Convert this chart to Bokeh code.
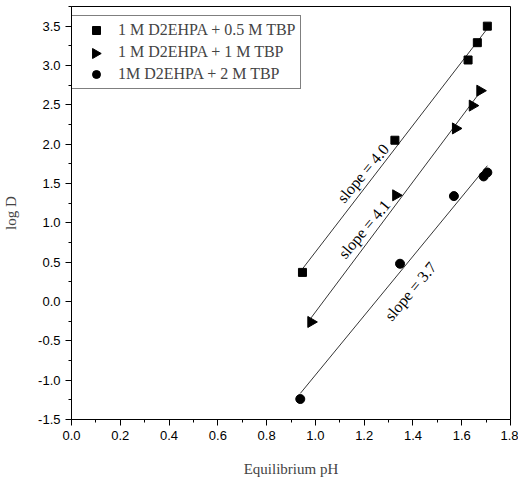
import numpy as np
from bokeh.plotting import figure
from bokeh.models import (Range1d, Legend, LegendItem, Label, FixedTicker,
                          PrintfTickFormatter, ColumnDataSource)
from bokeh.embed import file_html
from bokeh.resources import INLINE

# Data
x_sq = [0.947, 1.326, 1.626, 1.664, 1.705]
y_sq = [0.37, 2.05, 3.07, 3.29, 3.50]
x_tr = [0.982, 1.33, 1.575, 1.644, 1.675]
y_tr = [-0.26, 1.35, 2.20, 2.49, 2.68]
x_ci = [0.938, 1.347, 1.568, 1.69, 1.705]
y_ci = [-1.24, 0.48, 1.34, 1.59, 1.64]

labels = ["1 M D2EHPA + 0.5 M TBP", "1 M D2EHPA + 1 M TBP", "1M D2EHPA + 2 M TBP"]
slope_texts = ["slope = 4.0", "slope = 4.1", "slope = 3.7"]
slope_pos_x = [1.195, 1.20, 1.39]
slope_pos_y = [1.63, 0.92, 0.13]

X0, X1, Y0, Y1 = 0.0, 1.8, -1.5, 3.75
FW, FH = 440, 413  # frame size in px

p = figure(width=518, height=487, output_backend="svg", toolbar_location=None,
           x_range=Range1d(X0, X1), y_range=Range1d(Y0, Y1),
           min_border_left=70, min_border_right=8, min_border_top=6, min_border_bottom=68)
p.grid.visible = False
p.outline_line_color = "black"
p.outline_line_width = 1
p.background_fill_color = "white"
p.border_fill_color = "white"

series = [(x_sq, y_sq), (x_tr, y_tr), (x_ci, y_ci)]
for (xs, ys) in series:
    m, b = np.polyfit(xs, ys, 1)
    lx = [min(xs), max(xs)]
    p.line(lx, [m * v + b for v in lx], line_color="black", line_width=0.8)

src_tr = ColumnDataSource(dict(x=x_tr, y=y_tr, a=[-np.pi / 2] * len(x_tr)))

r1 = p.scatter(x_sq, y_sq, marker="square", size=8, fill_color="black", line_color="black")
r2 = p.scatter("x", "y", source=src_tr, marker="triangle", angle="a", size=11,
               fill_color="black", line_color="black")
r3 = p.scatter(x_ci, y_ci, marker="circle", size=9, fill_color="black", line_color="black")
# placeholder renderer for the legend row of the triangles (symbol drawn rotated beneath)
r2_leg = p.scatter([], [], marker="triangle", size=11, fill_alpha=0, line_alpha=0)

for t, sx, sy in zip(slope_texts, slope_pos_x, slope_pos_y):
    p.add_layout(Label(x=sx, y=sy, text=t, angle=50, angle_units="deg",
                       text_align="center", text_baseline="middle",
                       text_font="Liberation Serif", text_font_size="16px", text_color="black"))

LEG_X, LEG_Y = -2, 330
legend = Legend(items=[LegendItem(label=labels[0], renderers=[r1]),
                       LegendItem(label=labels[1], renderers=[r2_leg]),
                       LegendItem(label=labels[2], renderers=[r3])],
                location=(LEG_X, LEG_Y))
legend.label_text_font = "Liberation Serif"
legend.label_text_font_size = "16px"
legend.border_line_color = "black"
legend.border_line_width = 1
legend.background_fill_alpha = 0
legend.spacing = 2
legend.padding = 4
legend.margin = 0
legend.glyph_width = 44
legend.label_height = 20
legend.glyph_height = 20
legend.label_standoff = 0
p.add_layout(legend)

# rotated triangle symbol for the legend's second row (legend glyphs ignore angle)
gx_px = LEG_X + 4 + 44 / 2
gy_px = LEG_Y + 4 + 20 + 2 + 10
p.scatter([X0 + gx_px * (X1 - X0) / FW], [Y0 + gy_px * (Y1 - Y0) / FH],
          marker="triangle", angle=-np.pi / 2, size=10, fill_color="black",
          line_color="black")

for ax in (p.xaxis[0], p.yaxis[0]):
    ax.major_tick_in = 0
    ax.major_tick_out = 6
    ax.minor_tick_in = 0
    ax.minor_tick_out = 3
    ax.axis_line_color = "black"
    ax.major_label_text_font = "Liberation Sans"
    ax.major_label_text_font_size = "13px"
    ax.major_label_text_color = "black"
    ax.axis_label_text_font = "Liberation Serif"
    ax.axis_label_text_font_size = "15px"
    ax.axis_label_text_font_style = "normal"
    ax.formatter = PrintfTickFormatter(format="%.1f")

p.xaxis.axis_label = "Equilibrium pH"
p.yaxis.axis_label = "log D"
p.xaxis.axis_label_standoff = 18
p.yaxis.axis_label_standoff = 16

p.xaxis.ticker = FixedTicker(ticks=[0.0, 0.2, 0.4, 0.6, 0.8, 1.0, 1.2, 1.4, 1.6, 1.8],
                             minor_ticks=[0.1, 0.3, 0.5, 0.7, 0.9, 1.1, 1.3, 1.5, 1.7])
p.yaxis.ticker = FixedTicker(ticks=[-1.5, -1.0, -0.5, 0.0, 0.5, 1.0, 1.5, 2.0, 2.5, 3.0, 3.5],
                             minor_ticks=[-1.25, -0.75, -0.25, 0.25, 0.75, 1.25, 1.75, 2.25, 2.75, 3.25, 3.75])

open("out.html", "w").write(file_html(p, INLINE))
